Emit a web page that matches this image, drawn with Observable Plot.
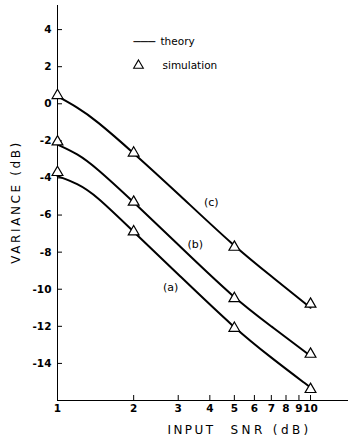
<!DOCTYPE html>
<html>
<head>
<meta charset="utf-8">
<script src="https://cdn.jsdelivr.net/npm/d3@7"></script>
<script src="https://cdn.jsdelivr.net/npm/@observablehq/plot@0.6"></script>
<style>
  html, body { margin: 0; padding: 0; background: #fff; }
  #chart svg { display: block; }
</style>
</head>
<body>
<div id="chart"></div>
<script>
// ---- data ----
const xTicks = [1, 2, 3, 4, 5, 6, 7, 8, 9, 10];
const yTicks = [4, 2, 0, -2, -4, -6, -8, -10, -12, -14];

// simulation points (triangles)
const simX = [1, 2, 5, 10];
const simA = [-3.7, -6.9, -12.1, -15.4];
const simB = [-2.05, -5.3, -10.5, -13.5];
const simC = [0.45, -2.65, -7.73, -10.8];

// theory curves
const theoryX = [1, 1.2, 1.41, 2, 3, 5, 7, 10];
const theoryA = [-3.9, -4.3, -4.9, -6.9, -9.2, -12.1, -13.7, -15.3];
const theoryB = [-2.2, -2.7, -3.4, -5.3, -7.6, -10.5, -12.0, -13.6];
const theoryC = [0.4, -0.2, -0.85, -2.65, -4.85, -7.7, -9.3, -11.0];

// curve labels
const curveNames = ["(a)", "(b)", "(c)"];
const curveLabelX = [2.8, 3.5, 4.05];
const curveLabelY = [-9.9, -7.6, -5.3];

// ---- build tables ----
const theory = [];
[["a", theoryA], ["b", theoryB], ["c", theoryC]].forEach(([k, arr]) =>
  arr.forEach((v, i) => theory.push({curve: k, x: theoryX[i], y: v})));
const sim = [];
[["a", simA], ["b", simB], ["c", simC]].forEach(([k, arr]) =>
  arr.forEach((v, i) => sim.push({curve: k, x: simX[i], y: v})));
const labels = curveNames.map((t, i) => ({t, x: curveLabelX[i], y: curveLabelY[i]}));

const font = "DejaVu Sans, Liberation Sans, sans-serif";

const chart = Plot.plot({
  width: 349,
  height: 440,
  marginLeft: 57,
  marginRight: 2,
  marginTop: 5,
  marginBottom: 40,
  style: {fontFamily: font, fontSize: "10.5px", color: "#000", background: "#fff"},
  x: {type: "log", domain: [1, 14]},
  y: {domain: [-16, 5.3]},
  marks: [
    Plot.frame({anchor: "left", stroke: "#000", strokeWidth: 1}),
    Plot.frame({anchor: "bottom", stroke: "#000", strokeWidth: 1}),
    Plot.axisY({ticks: yTicks, tickSize: -5, tickPadding: 11, label: null,
      tickFormat: d => (d < 0 ? "-" + Math.abs(d) : String(d)), fontWeight: "bold"}),
    Plot.axisX({ticks: xTicks, tickSize: -5, tickPadding: 9, label: null,
      tickFormat: d => String(d), fontWeight: "bold"}),
    Plot.text(["VARIANCE (dB)"], {frameAnchor: "left", textAnchor: "middle", rotate: -90,
      dx: -41, dy: -1, fontSize: 12}),
    Plot.text(["INPUT"], {frameAnchor: "bottom-left", textAnchor: "start", dx: 110, dy: 33,
      fontSize: 12}),
    Plot.text(["SNR (dB)"], {frameAnchor: "bottom-left", textAnchor: "start", dx: 173, dy: 33,
      fontSize: 12}),
    Plot.line(theory, {x: "x", y: "y", z: "curve", curve: "basis", stroke: "#000", strokeWidth: 2}),
    Plot.dot(sim, {x: "x", y: "y", symbol: "triangle", r: 4, stroke: "#000", fill: "#fff", strokeWidth: 1.2}),
    Plot.text(labels, {x: "x", y: "y", text: "t", fontSize: 11}),
    // legend
    Plot.text(["\u2500\u2500\u2500"], {frameAnchor: "top-left", textAnchor: "start", dx: 76, dy: 32,
      fontSize: 12, fontWeight: "bold"}),
    Plot.text(["theory"], {frameAnchor: "top-left", dx: 103, dy: 32, textAnchor: "start", fontSize: 10.5}),
    Plot.dot(["sim"], {frameAnchor: "top-left", dx: 81, dy: 60, symbol: "triangle", r: 3.6,
      stroke: "#000", fill: "#fff", strokeWidth: 1.1}),
    Plot.text(["simulation"], {frameAnchor: "top-left", dx: 105, dy: 56, textAnchor: "start", fontSize: 10.5})
  ]
});
// letter spacing for axis titles (not a Plot text option)
const spacing = {"VARIANCE (dB)": "2.6px", "INPUT": "2.4px", "SNR (dB)": "3.4px"};
chart.querySelectorAll("text").forEach(t => {
  const s = spacing[t.textContent];
  if (s) t.style.letterSpacing = s;
});
document.getElementById("chart").appendChild(chart);
</script>
</body>
</html>
